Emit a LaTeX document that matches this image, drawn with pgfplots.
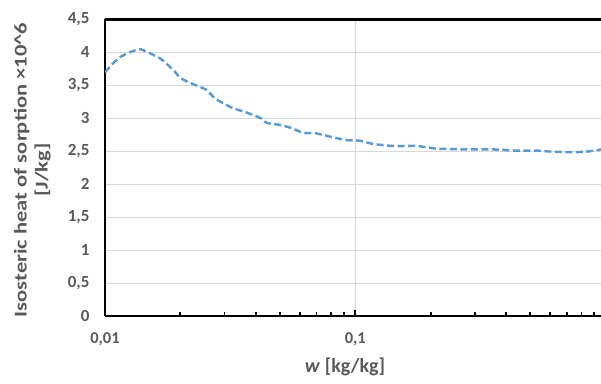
\documentclass[border=0pt]{standalone}
\usepackage{pgfplots}
\pgfplotsset{compat=1.18}
\usepackage{fontspec}
\setmainfont{Carlito}
\usetikzlibrary{calc}
\definecolor{txtgray}{HTML}{595959}
\definecolor{gridgray}{HTML}{D9D9D9}
\definecolor{lineblue}{HTML}{5B9BD5}
\begin{document}
\begin{tikzpicture}
\begin{axis}[name=ax, scale only axis, width=496pt, height=296.5pt,
  xmode=log, xmin=0.01, xmax=0.958, ymin=0, ymax=4.5,
  axis x line=box, axis y line=left,
  axis line style={-, black, line width=2.5pt},
  ytick={0,0.5,...,4.5},
  xtick={0.01,0.1}, xticklabels={{0,01},{0,1}},
  minor xtick={0.02,0.03,0.04,0.05,0.06,0.07,0.08,0.09,0.2,0.3,0.4,0.5,0.6,0.7,0.8,0.9},
  ymajorgrids, xmajorgrids,
  grid style={gridgray, line width=1pt},
  xtick pos=left, xtick align=inside,
  major tick length=6pt, minor tick length=4pt,
  tick style={black, line width=1.8pt},
  ytick style={draw=none},
  /pgf/number format/assume math mode=true,
  /pgf/number format/use comma, /pgf/number format/fixed,
  tick label style={font=\bfseries\fontsize{17}{20}\selectfont, text=txtgray},
  xticklabel style={yshift=-13pt, font=\bfseries\fontsize{16.5}{20}\selectfont},
  yticklabel style={xshift=-9pt},
  xlabel={\textbf{\textit{w}} \textbf{[kg/kg]}},
  every axis x label/.style={at={(axis description cs:0.484,0)}, anchor=base, yshift=-57pt,
    font=\fontsize{20}{24}\selectfont, text=txtgray},
  ylabel={\scalebox{1.25}[1]{\begin{tabular}{@{}c@{}}Isosteric heat of sorption ×10\textasciicircum 6\\{[J/kg]}\end{tabular}}},
  every axis y label/.style={at={(axis description cs:-0.1452,0.492)}, anchor=center, rotate=90,
    inner sep=0pt, font=\bfseries\fontsize{18}{21}\selectfont, text=txtgray},
]
\addplot[lineblue, line width=2.5pt, dash pattern=on 7pt off 3.5pt, smooth, tension=0.3] coordinates {
(0.0100,3.70) (0.0108,3.84) (0.0115,3.93) (0.0125,4.00) (0.0138,4.05)
(0.0151,3.99) (0.0166,3.91) (0.0176,3.83) (0.0188,3.73) (0.0199,3.62)
(0.0215,3.55) (0.0235,3.49) (0.0255,3.43) (0.0275,3.30) (0.0300,3.22)
(0.0326,3.15) (0.0360,3.10) (0.0391,3.05) (0.0420,3.00) (0.0443,2.93)
(0.0500,2.90) (0.0548,2.86) (0.0620,2.78) (0.0701,2.77) (0.0817,2.71)
(0.0924,2.67) (0.1044,2.66) (0.1180,2.61) (0.1420,2.58) (0.1760,2.58)
(0.2110,2.54) (0.2620,2.53) (0.3450,2.53) (0.4400,2.51) (0.5300,2.51)
(0.6380,2.49) (0.8140,2.49) (0.9370,2.52) (0.958,2.53)
};
\end{axis}
\pgfresetboundingbox
\path ($(ax.south west)+(-105pt,-68pt)$) rectangle ($(ax.north east)+(0pt,19.5pt)$);
\end{tikzpicture}
\end{document}
